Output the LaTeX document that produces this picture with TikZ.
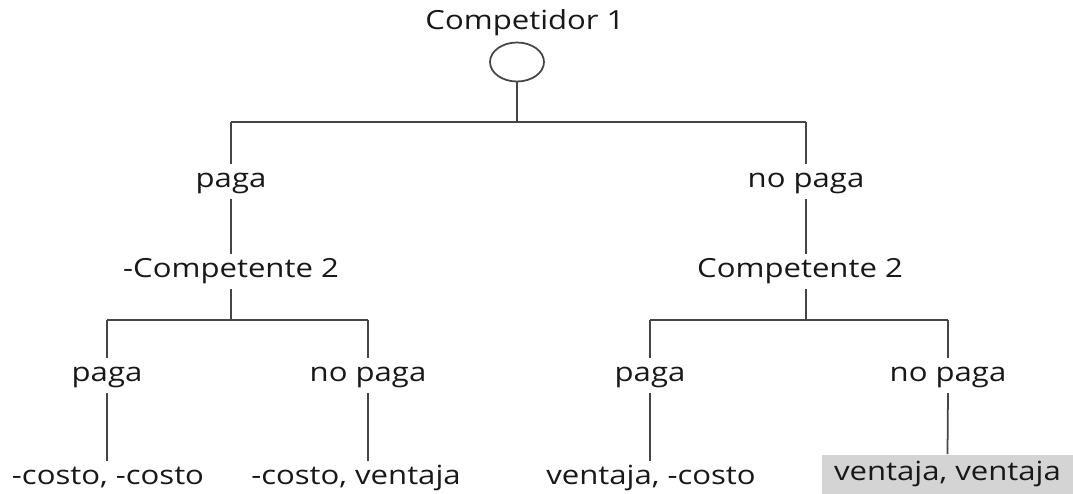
\documentclass[tikz,border=0pt]{standalone}
\usepackage{fontspec}
\setmainfont[FakeStretch=1.18]{Open Sans}
\usetikzlibrary{shapes.geometric}
\definecolor{textcol}{HTML}{1A1718}
\definecolor{linecol}{HTML}{454545}
\tikzset{lbl/.style = {text=textcol, font=\fontsize{15}{18}\selectfont,
                       text height=0.38cm, text depth=0.125cm,
                       inner xsep=0pt, inner ysep=0.08cm}}
\tikzset{chance/.style = {draw=linecol, ellipse, minimum width=1.08cm,
                          minimum height=0.78cm, inner sep=0pt}}
\tikzset{payoff/.style = {lbl, fill=black!17, minimum width=5.02cm,
                          minimum height=0.78cm}}

\begin{document}
\begin{tikzpicture}[x=0.02cm, y=-0.02cm, line width=1pt, color=linecol]
		\useasboundingbox (0, 0) rectangle (1073, 494);
		\node [style=lbl] (t) at (525, 23.6) {Competidor 1};
		\node [style=chance] (0) at (517, 62) {};
		\coordinate (1) at (517, 122);
		\coordinate (2) at (231, 122);
		\coordinate (3) at (806, 122);
		\node [style=lbl] (4) at (231, 181.6) {paga};
		\node [style=lbl] (5) at (806, 181.6) {no paga};
		\node [style=lbl] (6) at (231, 271.6) {-Competente 2};
		\node [style=lbl] (7) at (800, 271.6) {Competente 2};
		\coordinate (8) at (231, 320);
		\coordinate (9) at (107, 320);
		\coordinate (10) at (368, 320);
		\coordinate (11) at (806, 320);
		\coordinate (12) at (650, 320);
		\coordinate (13) at (948, 320);
		\node [style=lbl] (14) at (107, 375.6) {paga};
		\node [style=lbl] (15) at (368, 375.6) {no paga};
		\node [style=lbl] (16) at (650, 375.6) {paga};
		\node [style=lbl] (17) at (948, 375.6) {no paga};
		\node [style=lbl] (18) at (108, 478.6) {-costo, -costo};
		\node [style=lbl] (19) at (356, 478.6) {-costo, ventaja};
		\node [style=lbl] (20) at (651, 478.6) {ventaja, -costo};
		\node [style=payoff] (21) at (947.5, 474.5) {ventaja, ventaja};
		\draw (0.south) to (1);
		\draw (2) to (3);
		\draw (2) to (4.north);
		\draw (3) to (5.north);
		\draw (4.south) to (4.south |- 6.north);
		\draw (5.south) to (5.south |- 7.north);
		\draw (6.south) to (8);
		\draw (11 |- 7.south) to (11);
		\draw (9) to (10);
		\draw (12) to (13);
		\draw (9) to (14.north);
		\draw (10) to (15.north);
		\draw (12) to (16.north);
		\draw (13) to (17.north);
		\draw (14.south) to (14.south |- 18.north);
		\draw (15.south) to (15.south |- 19.north);
		\draw (16.south) to (16.south |- 20.north);
		\draw (17.south) to (21.north);
	\end{tikzpicture}
\end{document}
